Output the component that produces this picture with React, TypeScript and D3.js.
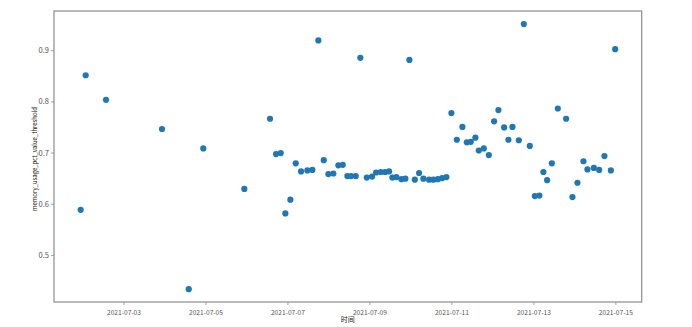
import React from "react";
import * as d3 from "d3";

const times: string[] = [
  "2021-07-01 22:38", "2021-07-02 01:34", "2021-07-02 13:28", "2021-07-03 22:15",
  "2021-07-04 13:54", "2021-07-04 22:26", "2021-07-05 22:28", "2021-07-06 13:31",
  "2021-07-06 17:02", "2021-07-06 19:47", "2021-07-06 22:29", "2021-07-07 01:25",
  "2021-07-07 04:34", "2021-07-07 07:40", "2021-07-07 11:21", "2021-07-07 14:17",
  "2021-07-07 17:48", "2021-07-07 20:58", "2021-07-07 23:40", "2021-07-08 02:36",
  "2021-07-08 05:31", "2021-07-08 08:05", "2021-07-08 10:48", "2021-07-08 12:58",
  "2021-07-08 15:43", "2021-07-08 18:24", "2021-07-08 22:09", "2021-07-09 01:15",
  "2021-07-09 03:36", "2021-07-09 06:21", "2021-07-09 08:53", "2021-07-09 11:13",
  "2021-07-09 13:09", "2021-07-09 15:29", "2021-07-09 18:25", "2021-07-09 20:46",
  "2021-07-09 23:07", "2021-07-10 02:17", "2021-07-10 04:47", "2021-07-10 07:18",
  "2021-07-10 10:39", "2021-07-10 13:09", "2021-07-10 15:44", "2021-07-10 18:15",
  "2021-07-10 20:47", "2021-07-10 23:43", "2021-07-11 02:53", "2021-07-11 06:09",
  "2021-07-11 08:44", "2021-07-11 11:04", "2021-07-11 13:45", "2021-07-11 15:45",
  "2021-07-11 18:41", "2021-07-11 21:37", "2021-07-12 00:43", "2021-07-12 03:14",
  "2021-07-12 06:35", "2021-07-12 09:06", "2021-07-12 11:27", "2021-07-12 15:11",
  "2021-07-12 18:07", "2021-07-12 21:37", "2021-07-13 00:33", "2021-07-13 03:14",
  "2021-07-13 05:35", "2021-07-13 07:45", "2021-07-13 10:31", "2021-07-13 14:01",
  "2021-07-13 18:53", "2021-07-13 22:35", "2021-07-14 01:31", "2021-07-14 05:01",
  "2021-07-14 07:22", "2021-07-14 11:07", "2021-07-14 14:13", "2021-07-14 17:19",
  "2021-07-14 21:04", "2021-07-14 23:36",
];

const values: number[] = [
  0.589, 0.852, 0.804, 0.747,
  0.434, 0.709, 0.630, 0.767,
  0.698, 0.700, 0.582, 0.609,
  0.680, 0.664, 0.666, 0.667,
  0.920, 0.686, 0.659, 0.660,
  0.676, 0.677, 0.655, 0.655,
  0.655, 0.886, 0.652, 0.654,
  0.662, 0.663, 0.663, 0.664,
  0.652, 0.653, 0.649, 0.650,
  0.882, 0.648, 0.661, 0.650,
  0.648, 0.648, 0.649, 0.651,
  0.653, 0.778, 0.726, 0.751,
  0.721, 0.722, 0.730, 0.705,
  0.709, 0.696, 0.762, 0.784,
  0.750, 0.726, 0.751, 0.725,
  0.952, 0.714, 0.616, 0.617,
  0.663, 0.647, 0.680, 0.787,
  0.767, 0.614, 0.642, 0.684,
  0.668, 0.671, 0.667, 0.694,
  0.666, 0.903,
];

const xTickLabels: string[] = [
  "2021-07-03", "2021-07-05", "2021-07-07", "2021-07-09",
  "2021-07-11", "2021-07-13", "2021-07-15",
];
const yTickValues: number[] = [0.5, 0.6, 0.7, 0.8, 0.9];
const xDomainLabels: string[] = ["2021-07-01 07:01", "2021-07-15 15:08"];
const yDomain: number[] = [0.409, 0.9775];

const xLabel = "时间";
const yLabel = "memory_usage_pct_value_threshold";

const parseTime = d3.timeParse("%Y-%m-%d %H:%M");
const parseDay = d3.timeParse("%Y-%m-%d");

export default function App() {
  const W = 692, H = 327;
  const left = 54, right = 641.7, top = 11, bottom = 302;
  const x = d3
    .scaleTime()
    .domain(xDomainLabels.map((s) => parseTime(s) as Date))
    .range([left, right]);
  const y = d3.scaleLinear().domain(yDomain).range([bottom, top]);
  const font = "'Noto Sans CJK SC', 'DejaVu Sans', sans-serif";
  const spine = "#8c8c8c";
  const textCol = "#555";

  return (
    <svg
      width={W}
      height={H}
      style={{ position: "absolute", left: 0, top: 0, background: "#fff" }}
    >
      <rect x={left} y={top} width={right - left} height={bottom - top} fill="#fff" />
      {times.map((t, i) => (
        <circle
          key={i}
          cx={x(parseTime(t) as Date)}
          cy={y(values[i])}
          r={3.1}
          fill="#1f77b4"
        />
      ))}
      <rect
        x={left}
        y={top}
        width={right - left}
        height={bottom - top}
        fill="none"
        stroke={spine}
        strokeWidth={1.2}
      />
      {xTickLabels.map((s) => {
        const px = x(parseDay(s) as Date);
        return (
          <g key={s}>
            <line x1={px} x2={px} y1={bottom} y2={bottom + 3} stroke={spine} strokeWidth={0.8} />
            <text
              x={px}
              y={bottom + 12.5}
              textAnchor="middle"
              fontSize={7}
              fontFamily={font}
              fill={textCol}
              textLength={34}
              lengthAdjust="spacingAndGlyphs"
            >
              {s}
            </text>
          </g>
        );
      })}
      {yTickValues.map((v) => {
        const py = y(v);
        return (
          <g key={v}>
            <line x1={left - 3} x2={left} y1={py} y2={py} stroke={spine} strokeWidth={0.8} />
            <text
              x={left - 5}
              y={py + 2.5}
              textAnchor="end"
              fontSize={7.5}
              fontFamily={font}
              fill={textCol}
            >
              {d3.format(".1f")(v)}
            </text>
          </g>
        );
      })}
      <text
        x={(left + right) / 2}
        y={322}
        textAnchor="middle"
        fontSize={7}
        fontFamily={font}
        fill="#222"
      >
        {xLabel}
      </text>
      <text
        transform={`translate(36.5, 159) rotate(-90)`}
        textAnchor="middle"
        fontSize={7}
        fontFamily={font}
        fill="#222"
        textLength={104}
        lengthAdjust="spacingAndGlyphs"
      >
        {yLabel}
      </text>
    </svg>
  );
}
